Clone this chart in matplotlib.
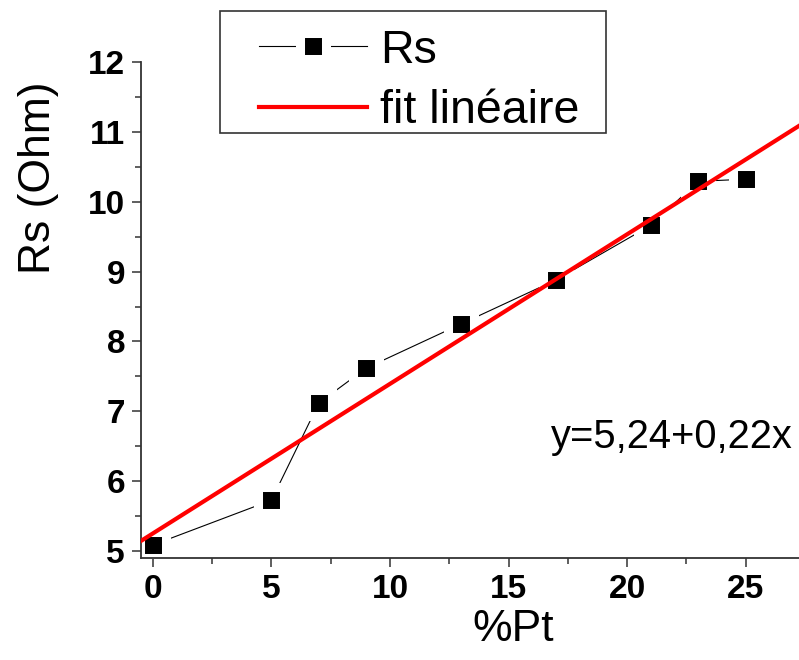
import matplotlib

matplotlib.use("Agg")
import matplotlib.pyplot as plt  # noqa: E402
import numpy as np  # noqa: E402
from matplotlib.legend_handler import HandlerLine2D  # noqa: E402
from matplotlib.lines import Line2D  # noqa: E402
from matplotlib.patches import Rectangle  # noqa: E402

# data
pt_pct = [0, 5, 7, 9, 13, 17, 21, 23, 25]
rs_ohm = [5.09, 5.73, 7.12, 7.62, 8.25, 8.88, 9.66, 10.29, 10.32]
fit_label = "y=5,24+0,22x"

plt.rcParams["font.family"] = ["Liberation Sans", "DejaVu Sans"]

W, H = 799, 660
fig = plt.figure(figsize=(W / 100, H / 100), dpi=100)
ax = fig.add_axes([0.1765, 0.1541, 0.8235, 0.7524])

ax.plot(pt_pct, rs_ohm, color="black", lw=0.8, marker="s", ms=19,
        mfc="black", mec="white", mew=6.5, label="Rs", zorder=2)

slope, icpt = np.polyfit(pt_pct, rs_ohm, 1)
xs = np.array([-0.5, 27.25])
ax.plot(xs, icpt + slope * xs, color="red", lw=3, label="fit linéaire",
        zorder=3)

ax.set_xlim(-0.5, 27.25)
ax.set_ylim(4.9, 12)
ax.set_xticks(range(0, 26, 5))
ax.set_xticks(np.arange(0, 27.5, 2.5), minor=True)
ax.set_yticks(range(5, 13))
ax.set_yticks(np.arange(5, 12.01, 0.5), minor=True)

for s in ("top", "right"):
    ax.spines[s].set_visible(False)
for s in ("left", "bottom"):
    ax.spines[s].set_color("#333333")
    ax.spines[s].set_linewidth(1.3)
ax.tick_params(which="major", direction="out", length=6.5, width=1.1,
               color="#333333", labelsize=24, pad=5)
ax.tick_params(which="minor", direction="out", length=4, width=1.1,
               color="#333333")
for lab in ax.get_xticklabels() + ax.get_yticklabels():
    lab.set_fontweight("bold")

ax.set_xlabel("%Pt", fontsize=32)
ax.set_ylabel("Rs (Ohm)", fontsize=32)
ax.xaxis.set_label_coords(0.565, -0.102)
ax.yaxis.set_label_coords(-0.125, 0.766)

ax.text(16.8, 6.64, fit_label, fontsize=28.7, ha="left", va="center")

# legend entries without frame, box drawn separately (Origin-like padding)
fig.legend(loc="upper left", bbox_to_anchor=(220 / W, 1 - 17 / H),
           fontsize=33.5, frameon=False,
           handlelength=2.91, handletextpad=0.28, borderpad=0.25,
           labelspacing=0.36, borderaxespad=0,
           handler_map={Line2D: HandlerLine2D(xpad=0.59)})
fig.patches.append(Rectangle((220 / W, 1 - 133 / H), 386 / W, 122 / H,
                             transform=fig.transFigure, fill=False,
                             edgecolor="#333333", lw=1.2))

fig.savefig("out.png", dpi=100)
